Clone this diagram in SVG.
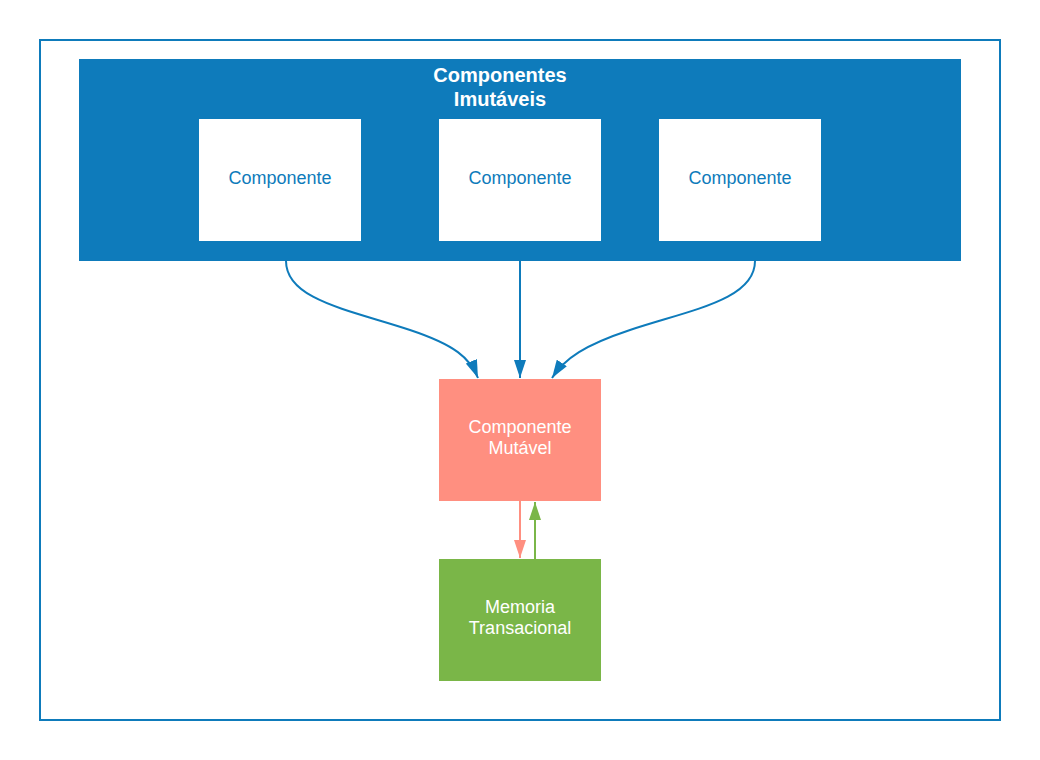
<svg xmlns="http://www.w3.org/2000/svg" width="1040" height="760" viewBox="0 0 1040 760">
<defs>
<style>
text{font-family:"Liberation Sans",Arial,sans-serif;text-anchor:middle;}
.lbl{font-size:18px;fill:#0e7bbb;}
.wl{font-size:18px;fill:#ffffff;}
.title{font-size:20px;font-weight:bold;fill:#ffffff;}
.conn{fill:none;stroke:#0e7bbb;stroke-width:2;}
</style>
<marker id="abv" viewBox="0 0 18 12" refX="18" refY="6" markerWidth="18" markerHeight="12" orient="auto" markerUnits="userSpaceOnUse"><path d="M0,0 L18,6 L0,12 Z" fill="#0e7bbb"/></marker>
<marker id="arv" viewBox="0 0 18 12" refX="18" refY="6" markerWidth="18" markerHeight="12" orient="auto" markerUnits="userSpaceOnUse"><path d="M0,0 L18,6 L0,12 Z" fill="#ff8f80"/></marker>
<marker id="agv" viewBox="0 0 18 12" refX="18" refY="6" markerWidth="18" markerHeight="12" orient="auto" markerUnits="userSpaceOnUse"><path d="M0,0 L18,6 L0,12 Z" fill="#7ab648"/></marker>
</defs>
<rect x="0" y="0" width="1040" height="760" fill="#ffffff"/>
<rect id="frame" x="40" y="40" width="960" height="680" fill="none" stroke="#0e7bbb" stroke-width="2"/>
<g id="imutaveis">
<rect x="79" y="59" width="882" height="202" fill="#0e7bbb"/>
<text class="title" x="500" y="82">Componentes</text>
<text class="title" x="500" y="106">Imutáveis</text>
</g>
<g id="comp1"><rect x="199" y="119" width="162" height="122" fill="#ffffff"/><text class="lbl" x="280" y="184">Componente</text></g>
<g id="comp2"><rect x="439" y="119" width="162" height="122" fill="#ffffff"/><text class="lbl" x="520" y="184">Componente</text></g>
<g id="comp3"><rect x="659" y="119" width="162" height="122" fill="#ffffff"/><text class="lbl" x="740" y="184">Componente</text></g>
<g id="mutavel"><rect x="439" y="379" width="162" height="122" fill="#ff8f80"/><text class="wl" x="520" y="433">Componente</text><text class="wl" x="520" y="454">Mutável</text></g>
<g id="memoria"><rect x="439" y="559" width="162" height="122" fill="#7ab648"/><text class="wl" x="520" y="613">Memoria</text><text class="wl" x="520" y="634">Transacional</text></g>
<g id="connectors">
<path class="conn" d="M286,261 C286,300 350,310 410,330 C455,345 470,358 478,378" marker-end="url(#abv)"/>
<path class="conn" d="M520,261 L520,378" marker-end="url(#abv)"/>
<path class="conn" d="M755,261 C755,300 690,310 630,330 C585,345 565,358 552,378" marker-end="url(#abv)"/>
<path d="M520,501 L520,558" fill="none" stroke="#ff8f80" stroke-width="2" marker-end="url(#arv)"/>
<path d="M535,559 L535,502" fill="none" stroke="#7ab648" stroke-width="2" marker-end="url(#agv)"/>
</g>
</svg>
